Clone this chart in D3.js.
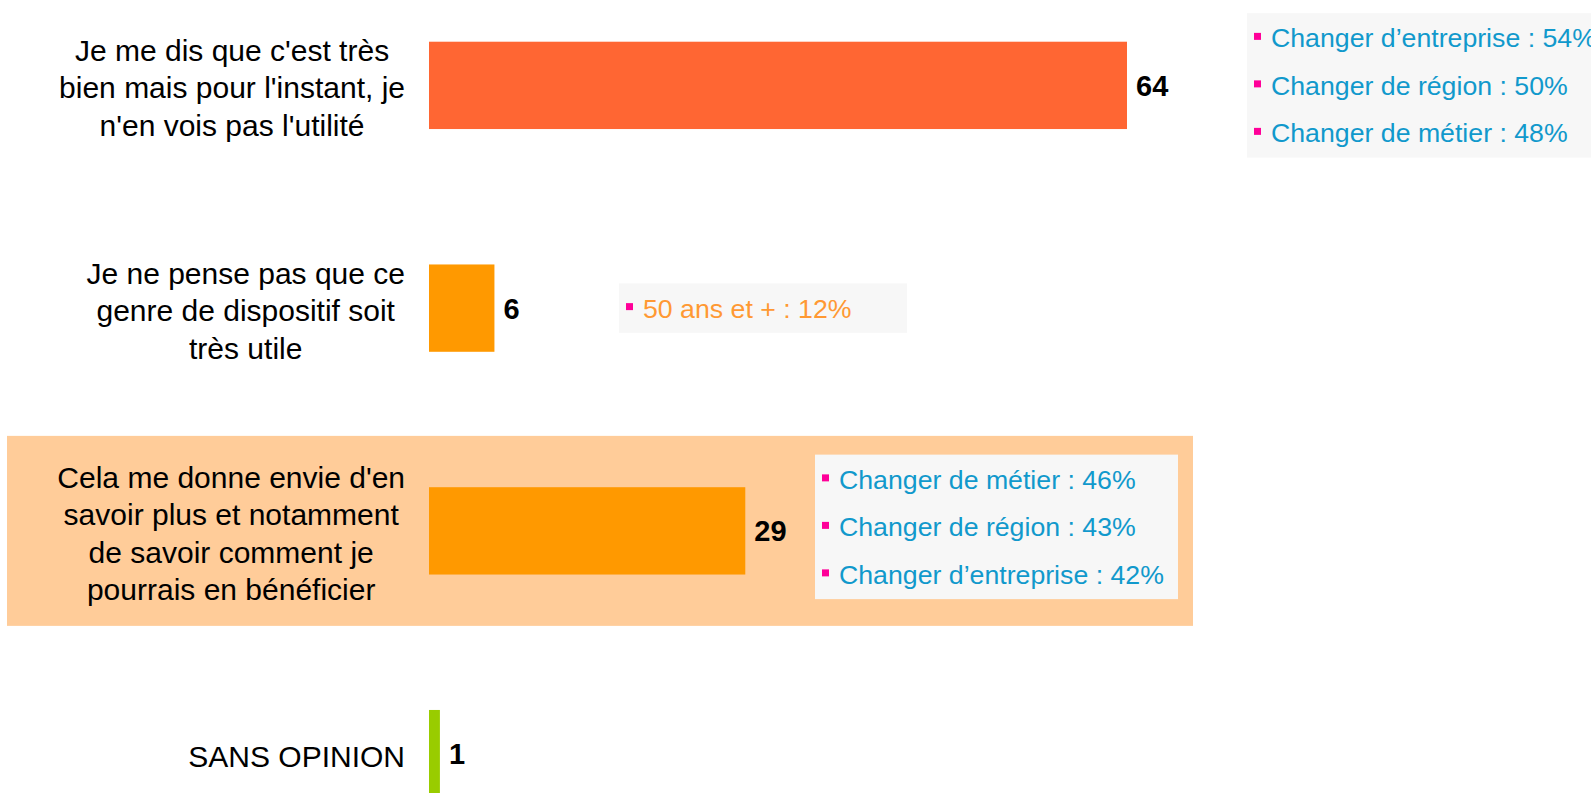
<!DOCTYPE html>
<html>
<head>
<meta charset="utf-8">
<script src="https://cdn.jsdelivr.net/npm/d3@7"></script>
<style>
  body { margin: 0; background: #fff; }
  svg { display: block; font-family: "Liberation Sans", Arial, sans-serif; }
</style>
</head>
<body>
<div id="chart"></div>
<script>
// data
const categories = [
  "Je me dis que c'est très bien mais pour l'instant, je n'en vois pas l'utilité",
  "Je ne pense pas que ce genre de dispositif soit très utile",
  "Cela me donne envie d'en savoir plus et notamment de savoir comment je pourrais en bénéficier",
  "SANS OPINION"
];
const values = [64, 6, 29, 1];
const barColors = ["#FF6633", "#FF9900", "#FF9900", "#99CC00"];
const highlighted = categories[2];

const callout1Labels = ["Changer d’entreprise", "Changer de région", "Changer de métier"];
const callout1Values = [54, 50, 48];
const callout2Labels = ["50 ans et +"];
const callout2Values = [12];
const callout3Labels = ["Changer de métier", "Changer de région", "Changer d’entreprise"];
const callout3Values = [46, 43, 42];

const width = 1591, height = 793;

const svg = d3.select("#chart")
  .append("svg")
  .attr("width", width)
  .attr("height", height);

const x = d3.scaleLinear().domain([0, 64]).range([429, 1127]);
const y = d3.scaleBand()
  .domain(categories)
  .range([-26, 865])
  .paddingInner(0.608)
  .paddingOuter(0.304);
const mid = c => y(c) + y.bandwidth() / 2;

// highlight band behind the 3rd answer
svg.append("rect")
  .attr("x", 7)
  .attr("width", 1186)
  .attr("y", mid(highlighted) - 95)
  .attr("height", 190)
  .attr("fill", "#FFCC99");

// bars
svg.selectAll(".bar")
  .data(categories)
  .enter()
  .append("rect")
  .attr("class", "bar")
  .attr("x", x(0))
  .attr("y", d => y(d))
  .attr("width", (d, i) => x(values[i]) - x(0))
  .attr("height", y.bandwidth())
  .attr("fill", (d, i) => barColors[i]);

// value labels
svg.selectAll(".val")
  .data(categories)
  .enter()
  .append("text")
  .attr("class", "val")
  .attr("x", (d, i) => x(values[i]) + 9)
  .attr("y", d => mid(d) + 10.5)
  .attr("font-size", 29)
  .attr("font-weight", "bold")
  .attr("fill", "#000")
  .text((d, i) => values[i]);

// category labels, wrapped and centred in a box right-aligned to the axis
const labelRight = 405, maxW = 349, lineH = 37.5;
categories.forEach(c => {
  const t = svg.append("text")
    .attr("font-size", 30)
    .attr("fill", "#000")
    .attr("text-anchor", "middle");
  const probe = t.append("tspan");
  const words = c.split(" ");
  const lines = [];
  let line = [];
  words.forEach(w => {
    line.push(w);
    probe.text(line.join(" "));
    if (probe.node().getComputedTextLength() > maxW && line.length > 1) {
      line.pop();
      lines.push(line.join(" "));
      line = [w];
    }
  });
  lines.push(line.join(" "));
  let boxW = 0;
  lines.forEach(l => {
    probe.text(l);
    boxW = Math.max(boxW, probe.node().getComputedTextLength());
  });
  probe.remove();
  const cx = labelRight - boxW / 2;
  const top = mid(c) - (lines.length - 1) * lineH / 2 + 13;
  lines.forEach((l, i) => {
    t.append("tspan").attr("x", cx).attr("y", top + i * lineH).text(l);
  });
});

// callout boxes
const calloutStep = 47.5;
function callout(labels, vals, color, left, boxWidth, cy) {
  const n = labels.length;
  const g = svg.append("g");
  g.append("rect")
    .attr("x", left)
    .attr("y", cy - n * calloutStep / 2 - 1)
    .attr("width", boxWidth)
    .attr("height", n * calloutStep + 2)
    .attr("fill", "#F7F7F7");
  labels.forEach((l, i) => {
    const ly = cy + (i - (n - 1) / 2) * calloutStep;
    g.append("rect")
      .attr("x", left + 7)
      .attr("y", ly - 5)
      .attr("width", 7)
      .attr("height", 7)
      .attr("fill", "#FF0099");
    g.append("text")
      .attr("x", left + 24)
      .attr("y", ly + 9.5)
      .attr("font-size", 26.7)
      .attr("fill", color)
      .text(`${l} : ${vals[i]}%`);
  });
}

callout(callout1Labels, callout1Values, "#1199CC", 1247, 360, mid(categories[0]));
callout(callout2Labels, callout2Values, "#FF9933", 619, 288, mid(categories[1]));
callout(callout3Labels, callout3Values, "#1199CC", 815, 363, mid(categories[2]) - 4);
</script>
</body>
</html>
